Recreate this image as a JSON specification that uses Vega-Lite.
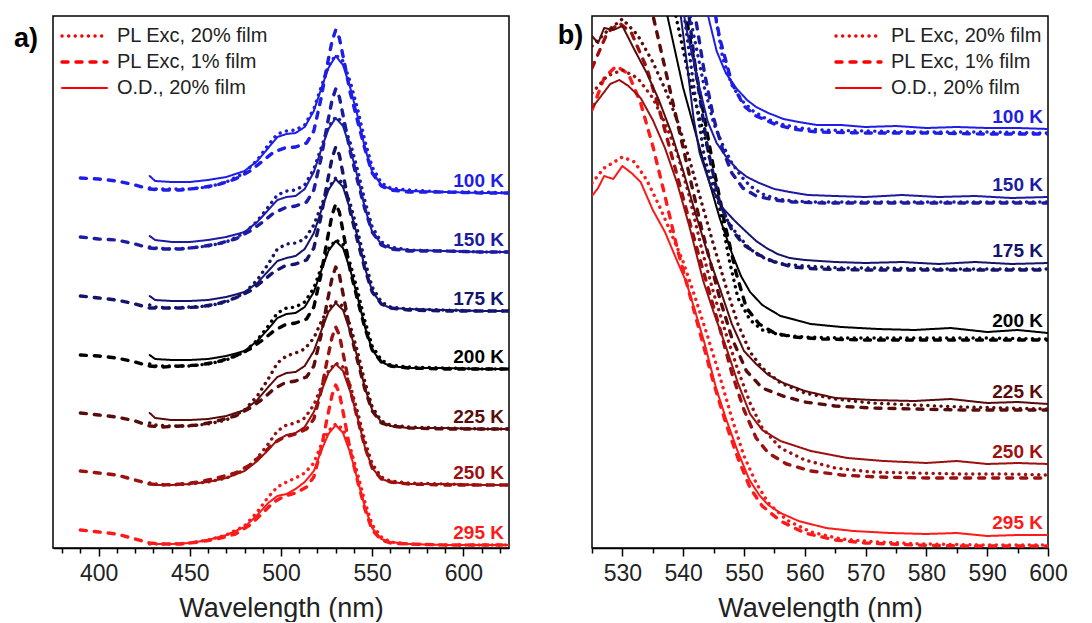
{
"$schema":"https://vega.github.io/schema/vega-lite/v6.json",
"padding":{"left":13,"top":15,"right":5,"bottom":0},
"background":"white",
"spacing":47,
"config":{"view":{"stroke":"#000","strokeWidth":1.5},"font":"Liberation Sans"},
"datasets":{
"a":[
{"t":"100 K","s":"c","x":428,"y":372},{"t":"100 K","s":"c","x":431,"y":367},{"t":"100 K","s":"c","x":440,"y":366},{"t":"100 K","s":"c","x":450,"y":366},{"t":"100 K","s":"c","x":460,"y":368},{"t":"100 K","s":"c","x":470,"y":371},{"t":"100 K","s":"c","x":480,"y":377},{"t":"100 K","s":"c","x":487,"y":387},{"t":"100 K","s":"c","x":493,"y":400},{"t":"100 K","s":"c","x":498,"y":411},{"t":"100 K","s":"c","x":503,"y":414},{"t":"100 K","s":"c","x":508,"y":415},{"t":"100 K","s":"c","x":513,"y":421},{"t":"100 K","s":"c","x":518,"y":437},{"t":"100 K","s":"c","x":522,"y":459},{"t":"100 K","s":"c","x":526,"y":480},{"t":"100 K","s":"c","x":530,"y":492},{"t":"100 K","s":"c","x":534,"y":483},{"t":"100 K","s":"c","x":538,"y":460},{"t":"100 K","s":"c","x":542,"y":432},{"t":"100 K","s":"c","x":546,"y":400},{"t":"100 K","s":"c","x":550,"y":376},{"t":"100 K","s":"c","x":555,"y":363},{"t":"100 K","s":"c","x":560,"y":359},{"t":"100 K","s":"c","x":570,"y":357},{"t":"100 K","s":"c","x":590,"y":356},{"t":"100 K","s":"c","x":610,"y":355},{"t":"100 K","s":"c","x":625,"y":355},
{"t":"100 K","s":"a","x":428,"y":360},{"t":"100 K","s":"a","x":431,"y":359},{"t":"100 K","s":"a","x":440,"y":359},{"t":"100 K","s":"a","x":450,"y":359},{"t":"100 K","s":"a","x":460,"y":361},{"t":"100 K","s":"a","x":470,"y":366},{"t":"100 K","s":"a","x":480,"y":375},{"t":"100 K","s":"a","x":487,"y":388},{"t":"100 K","s":"a","x":493,"y":403},{"t":"100 K","s":"a","x":498,"y":414},{"t":"100 K","s":"a","x":503,"y":417},{"t":"100 K","s":"a","x":508,"y":418},{"t":"100 K","s":"a","x":513,"y":423},{"t":"100 K","s":"a","x":518,"y":439},{"t":"100 K","s":"a","x":522,"y":461},{"t":"100 K","s":"a","x":526,"y":482},{"t":"100 K","s":"a","x":530,"y":493},{"t":"100 K","s":"a","x":534,"y":487},{"t":"100 K","s":"a","x":538,"y":466},{"t":"100 K","s":"a","x":542,"y":439},{"t":"100 K","s":"a","x":546,"y":407},{"t":"100 K","s":"a","x":550,"y":381},{"t":"100 K","s":"a","x":555,"y":365},{"t":"100 K","s":"a","x":560,"y":360},{"t":"100 K","s":"a","x":570,"y":358},{"t":"100 K","s":"a","x":590,"y":356},{"t":"100 K","s":"a","x":610,"y":356},{"t":"100 K","s":"a","x":625,"y":355},
{"t":"150 K","s":"c","x":428,"y":312},{"t":"150 K","s":"c","x":431,"y":308},{"t":"150 K","s":"c","x":440,"y":306},{"t":"150 K","s":"c","x":450,"y":306},{"t":"150 K","s":"c","x":460,"y":308},{"t":"150 K","s":"c","x":470,"y":311},{"t":"150 K","s":"c","x":480,"y":316},{"t":"150 K","s":"c","x":487,"y":326},{"t":"150 K","s":"c","x":493,"y":338},{"t":"150 K","s":"c","x":498,"y":348},{"t":"150 K","s":"c","x":503,"y":351},{"t":"150 K","s":"c","x":508,"y":352},{"t":"150 K","s":"c","x":513,"y":359},{"t":"150 K","s":"c","x":518,"y":376},{"t":"150 K","s":"c","x":522,"y":398},{"t":"150 K","s":"c","x":526,"y":419},{"t":"150 K","s":"c","x":530,"y":430},{"t":"150 K","s":"c","x":534,"y":422},{"t":"150 K","s":"c","x":538,"y":399},{"t":"150 K","s":"c","x":542,"y":371},{"t":"150 K","s":"c","x":546,"y":340},{"t":"150 K","s":"c","x":550,"y":316},{"t":"150 K","s":"c","x":555,"y":304},{"t":"150 K","s":"c","x":560,"y":300},{"t":"150 K","s":"c","x":570,"y":298},{"t":"150 K","s":"c","x":590,"y":297},{"t":"150 K","s":"c","x":610,"y":296},{"t":"150 K","s":"c","x":625,"y":296},
{"t":"150 K","s":"a","x":428,"y":301},{"t":"150 K","s":"a","x":431,"y":300},{"t":"150 K","s":"a","x":440,"y":299},{"t":"150 K","s":"a","x":450,"y":300},{"t":"150 K","s":"a","x":460,"y":302},{"t":"150 K","s":"a","x":470,"y":306},{"t":"150 K","s":"a","x":480,"y":315},{"t":"150 K","s":"a","x":487,"y":327},{"t":"150 K","s":"a","x":493,"y":341},{"t":"150 K","s":"a","x":498,"y":353},{"t":"150 K","s":"a","x":503,"y":357},{"t":"150 K","s":"a","x":508,"y":358},{"t":"150 K","s":"a","x":513,"y":363},{"t":"150 K","s":"a","x":518,"y":379},{"t":"150 K","s":"a","x":522,"y":400},{"t":"150 K","s":"a","x":526,"y":421},{"t":"150 K","s":"a","x":530,"y":431},{"t":"150 K","s":"a","x":534,"y":426},{"t":"150 K","s":"a","x":538,"y":405},{"t":"150 K","s":"a","x":542,"y":378},{"t":"150 K","s":"a","x":546,"y":347},{"t":"150 K","s":"a","x":550,"y":321},{"t":"150 K","s":"a","x":555,"y":306},{"t":"150 K","s":"a","x":560,"y":301},{"t":"150 K","s":"a","x":570,"y":298},{"t":"150 K","s":"a","x":590,"y":297},{"t":"150 K","s":"a","x":610,"y":296},{"t":"150 K","s":"a","x":625,"y":296},
{"t":"175 K","s":"c","x":428,"y":252},{"t":"175 K","s":"c","x":431,"y":248},{"t":"175 K","s":"c","x":440,"y":247},{"t":"175 K","s":"c","x":450,"y":247},{"t":"175 K","s":"c","x":460,"y":248},{"t":"175 K","s":"c","x":470,"y":251},{"t":"175 K","s":"c","x":480,"y":256},{"t":"175 K","s":"c","x":487,"y":265},{"t":"175 K","s":"c","x":493,"y":277},{"t":"175 K","s":"c","x":498,"y":287},{"t":"175 K","s":"c","x":503,"y":290},{"t":"175 K","s":"c","x":508,"y":292},{"t":"175 K","s":"c","x":513,"y":299},{"t":"175 K","s":"c","x":518,"y":315},{"t":"175 K","s":"c","x":522,"y":337},{"t":"175 K","s":"c","x":526,"y":358},{"t":"175 K","s":"c","x":530,"y":369},{"t":"175 K","s":"c","x":534,"y":361},{"t":"175 K","s":"c","x":538,"y":338},{"t":"175 K","s":"c","x":542,"y":311},{"t":"175 K","s":"c","x":546,"y":280},{"t":"175 K","s":"c","x":550,"y":257},{"t":"175 K","s":"c","x":555,"y":244},{"t":"175 K","s":"c","x":560,"y":240},{"t":"175 K","s":"c","x":570,"y":239},{"t":"175 K","s":"c","x":590,"y":238},{"t":"175 K","s":"c","x":610,"y":237},{"t":"175 K","s":"c","x":625,"y":237},
{"t":"175 K","s":"a","x":428,"y":243},{"t":"175 K","s":"a","x":431,"y":241},{"t":"175 K","s":"a","x":440,"y":240},{"t":"175 K","s":"a","x":450,"y":241},{"t":"175 K","s":"a","x":460,"y":242},{"t":"175 K","s":"a","x":470,"y":246},{"t":"175 K","s":"a","x":480,"y":255},{"t":"175 K","s":"a","x":487,"y":268},{"t":"175 K","s":"a","x":493,"y":284},{"t":"175 K","s":"a","x":498,"y":299},{"t":"175 K","s":"a","x":503,"y":304},{"t":"175 K","s":"a","x":508,"y":305},{"t":"175 K","s":"a","x":513,"y":309},{"t":"175 K","s":"a","x":518,"y":323},{"t":"175 K","s":"a","x":522,"y":342},{"t":"175 K","s":"a","x":526,"y":360},{"t":"175 K","s":"a","x":530,"y":370},{"t":"175 K","s":"a","x":534,"y":365},{"t":"175 K","s":"a","x":538,"y":344},{"t":"175 K","s":"a","x":542,"y":317},{"t":"175 K","s":"a","x":546,"y":287},{"t":"175 K","s":"a","x":550,"y":261},{"t":"175 K","s":"a","x":555,"y":246},{"t":"175 K","s":"a","x":560,"y":241},{"t":"175 K","s":"a","x":570,"y":239},{"t":"175 K","s":"a","x":590,"y":238},{"t":"175 K","s":"a","x":610,"y":237},{"t":"175 K","s":"a","x":625,"y":237},
{"t":"200 K","s":"c","x":428,"y":193},{"t":"200 K","s":"c","x":431,"y":189},{"t":"200 K","s":"c","x":440,"y":188},{"t":"200 K","s":"c","x":450,"y":188},{"t":"200 K","s":"c","x":460,"y":189},{"t":"200 K","s":"c","x":470,"y":192},{"t":"200 K","s":"c","x":480,"y":197},{"t":"200 K","s":"c","x":487,"y":207},{"t":"200 K","s":"c","x":493,"y":219},{"t":"200 K","s":"c","x":498,"y":230},{"t":"200 K","s":"c","x":503,"y":234},{"t":"200 K","s":"c","x":508,"y":235},{"t":"200 K","s":"c","x":513,"y":241},{"t":"200 K","s":"c","x":518,"y":256},{"t":"200 K","s":"c","x":522,"y":277},{"t":"200 K","s":"c","x":526,"y":297},{"t":"200 K","s":"c","x":530,"y":307},{"t":"200 K","s":"c","x":534,"y":300},{"t":"200 K","s":"c","x":538,"y":278},{"t":"200 K","s":"c","x":542,"y":251},{"t":"200 K","s":"c","x":546,"y":221},{"t":"200 K","s":"c","x":550,"y":198},{"t":"200 K","s":"c","x":555,"y":186},{"t":"200 K","s":"c","x":560,"y":182},{"t":"200 K","s":"c","x":570,"y":180},{"t":"200 K","s":"c","x":590,"y":180},{"t":"200 K","s":"c","x":610,"y":179},{"t":"200 K","s":"c","x":625,"y":179},
{"t":"200 K","s":"a","x":428,"y":184},{"t":"200 K","s":"a","x":431,"y":182},{"t":"200 K","s":"a","x":440,"y":182},{"t":"200 K","s":"a","x":450,"y":182},{"t":"200 K","s":"a","x":460,"y":184},{"t":"200 K","s":"a","x":470,"y":188},{"t":"200 K","s":"a","x":480,"y":196},{"t":"200 K","s":"a","x":487,"y":208},{"t":"200 K","s":"a","x":493,"y":222},{"t":"200 K","s":"a","x":498,"y":235},{"t":"200 K","s":"a","x":503,"y":240},{"t":"200 K","s":"a","x":508,"y":241},{"t":"200 K","s":"a","x":513,"y":246},{"t":"200 K","s":"a","x":518,"y":260},{"t":"200 K","s":"a","x":522,"y":280},{"t":"200 K","s":"a","x":526,"y":299},{"t":"200 K","s":"a","x":530,"y":308},{"t":"200 K","s":"a","x":534,"y":304},{"t":"200 K","s":"a","x":538,"y":284},{"t":"200 K","s":"a","x":542,"y":257},{"t":"200 K","s":"a","x":546,"y":227},{"t":"200 K","s":"a","x":550,"y":202},{"t":"200 K","s":"a","x":555,"y":188},{"t":"200 K","s":"a","x":560,"y":183},{"t":"200 K","s":"a","x":570,"y":181},{"t":"200 K","s":"a","x":590,"y":180},{"t":"200 K","s":"a","x":610,"y":179},{"t":"200 K","s":"a","x":625,"y":179},
{"t":"225 K","s":"c","x":428,"y":135},{"t":"225 K","s":"c","x":431,"y":130},{"t":"225 K","s":"c","x":440,"y":128},{"t":"225 K","s":"c","x":450,"y":128},{"t":"225 K","s":"c","x":460,"y":129},{"t":"225 K","s":"c","x":470,"y":132},{"t":"225 K","s":"c","x":480,"y":138},{"t":"225 K","s":"c","x":487,"y":148},{"t":"225 K","s":"c","x":493,"y":161},{"t":"225 K","s":"c","x":498,"y":171},{"t":"225 K","s":"c","x":503,"y":175},{"t":"225 K","s":"c","x":508,"y":176},{"t":"225 K","s":"c","x":513,"y":182},{"t":"225 K","s":"c","x":518,"y":197},{"t":"225 K","s":"c","x":522,"y":217},{"t":"225 K","s":"c","x":526,"y":236},{"t":"225 K","s":"c","x":530,"y":245},{"t":"225 K","s":"c","x":534,"y":238},{"t":"225 K","s":"c","x":538,"y":216},{"t":"225 K","s":"c","x":542,"y":190},{"t":"225 K","s":"c","x":546,"y":160},{"t":"225 K","s":"c","x":550,"y":138},{"t":"225 K","s":"c","x":555,"y":126},{"t":"225 K","s":"c","x":560,"y":122},{"t":"225 K","s":"c","x":570,"y":120},{"t":"225 K","s":"c","x":590,"y":120},{"t":"225 K","s":"c","x":610,"y":119},{"t":"225 K","s":"c","x":625,"y":119},
{"t":"225 K","s":"a","x":428,"y":125},{"t":"225 K","s":"a","x":431,"y":123},{"t":"225 K","s":"a","x":440,"y":122},{"t":"225 K","s":"a","x":450,"y":122},{"t":"225 K","s":"a","x":460,"y":124},{"t":"225 K","s":"a","x":470,"y":128},{"t":"225 K","s":"a","x":480,"y":138},{"t":"225 K","s":"a","x":487,"y":152},{"t":"225 K","s":"a","x":493,"y":169},{"t":"225 K","s":"a","x":498,"y":185},{"t":"225 K","s":"a","x":503,"y":192},{"t":"225 K","s":"a","x":508,"y":195},{"t":"225 K","s":"a","x":513,"y":199},{"t":"225 K","s":"a","x":518,"y":210},{"t":"225 K","s":"a","x":522,"y":226},{"t":"225 K","s":"a","x":526,"y":240},{"t":"225 K","s":"a","x":530,"y":246},{"t":"225 K","s":"a","x":534,"y":242},{"t":"225 K","s":"a","x":538,"y":222},{"t":"225 K","s":"a","x":542,"y":196},{"t":"225 K","s":"a","x":546,"y":166},{"t":"225 K","s":"a","x":550,"y":141},{"t":"225 K","s":"a","x":555,"y":127},{"t":"225 K","s":"a","x":560,"y":123},{"t":"225 K","s":"a","x":570,"y":121},{"t":"225 K","s":"a","x":590,"y":120},{"t":"225 K","s":"a","x":610,"y":119},{"t":"225 K","s":"a","x":625,"y":119},
{"t":"250 K","s":"c","x":428,"y":65},{"t":"250 K","s":"c","x":431,"y":63},{"t":"250 K","s":"c","x":440,"y":63},{"t":"250 K","s":"c","x":450,"y":64},{"t":"250 K","s":"c","x":460,"y":66},{"t":"250 K","s":"c","x":470,"y":70},{"t":"250 K","s":"c","x":480,"y":77},{"t":"250 K","s":"c","x":487,"y":87},{"t":"250 K","s":"c","x":493,"y":98},{"t":"250 K","s":"c","x":498,"y":108},{"t":"250 K","s":"c","x":503,"y":113},{"t":"250 K","s":"c","x":508,"y":115},{"t":"250 K","s":"c","x":513,"y":121},{"t":"250 K","s":"c","x":518,"y":136},{"t":"250 K","s":"c","x":522,"y":156},{"t":"250 K","s":"c","x":526,"y":175},{"t":"250 K","s":"c","x":530,"y":184},{"t":"250 K","s":"c","x":534,"y":177},{"t":"250 K","s":"c","x":538,"y":156},{"t":"250 K","s":"c","x":542,"y":130},{"t":"250 K","s":"c","x":546,"y":101},{"t":"250 K","s":"c","x":550,"y":80},{"t":"250 K","s":"c","x":555,"y":69},{"t":"250 K","s":"c","x":560,"y":66},{"t":"250 K","s":"c","x":570,"y":64},{"t":"250 K","s":"c","x":590,"y":64},{"t":"250 K","s":"c","x":610,"y":63},{"t":"250 K","s":"c","x":625,"y":63},
{"t":"250 K","s":"a","x":428,"y":65},{"t":"250 K","s":"a","x":431,"y":64},{"t":"250 K","s":"a","x":440,"y":63},{"t":"250 K","s":"a","x":450,"y":64},{"t":"250 K","s":"a","x":460,"y":66},{"t":"250 K","s":"a","x":470,"y":70},{"t":"250 K","s":"a","x":480,"y":78},{"t":"250 K","s":"a","x":487,"y":90},{"t":"250 K","s":"a","x":493,"y":104},{"t":"250 K","s":"a","x":498,"y":117},{"t":"250 K","s":"a","x":503,"y":123},{"t":"250 K","s":"a","x":508,"y":125},{"t":"250 K","s":"a","x":513,"y":130},{"t":"250 K","s":"a","x":518,"y":143},{"t":"250 K","s":"a","x":522,"y":161},{"t":"250 K","s":"a","x":526,"y":177},{"t":"250 K","s":"a","x":530,"y":185},{"t":"250 K","s":"a","x":534,"y":181},{"t":"250 K","s":"a","x":538,"y":162},{"t":"250 K","s":"a","x":542,"y":136},{"t":"250 K","s":"a","x":546,"y":107},{"t":"250 K","s":"a","x":550,"y":84},{"t":"250 K","s":"a","x":555,"y":71},{"t":"250 K","s":"a","x":560,"y":67},{"t":"250 K","s":"a","x":570,"y":65},{"t":"250 K","s":"a","x":590,"y":64},{"t":"250 K","s":"a","x":610,"y":63},{"t":"250 K","s":"a","x":625,"y":63},
{"t":"295 K","s":"c","x":428,"y":4},{"t":"295 K","s":"c","x":431,"y":4},{"t":"295 K","s":"c","x":440,"y":4},{"t":"295 K","s":"c","x":450,"y":5},{"t":"295 K","s":"c","x":460,"y":8},{"t":"295 K","s":"c","x":470,"y":13},{"t":"295 K","s":"c","x":480,"y":21},{"t":"295 K","s":"c","x":487,"y":33},{"t":"295 K","s":"c","x":493,"y":45},{"t":"295 K","s":"c","x":498,"y":52},{"t":"295 K","s":"c","x":503,"y":54},{"t":"295 K","s":"c","x":508,"y":59},{"t":"295 K","s":"c","x":513,"y":66},{"t":"295 K","s":"c","x":518,"y":77},{"t":"295 K","s":"c","x":522,"y":97},{"t":"295 K","s":"c","x":526,"y":114},{"t":"295 K","s":"c","x":530,"y":123},{"t":"295 K","s":"c","x":534,"y":115},{"t":"295 K","s":"c","x":538,"y":95},{"t":"295 K","s":"c","x":542,"y":68},{"t":"295 K","s":"c","x":546,"y":41},{"t":"295 K","s":"c","x":550,"y":20},{"t":"295 K","s":"c","x":555,"y":9},{"t":"295 K","s":"c","x":560,"y":6},{"t":"295 K","s":"c","x":570,"y":4},{"t":"295 K","s":"c","x":590,"y":3},{"t":"295 K","s":"c","x":610,"y":3},{"t":"295 K","s":"c","x":625,"y":3},
{"t":"295 K","s":"a","x":428,"y":4},{"t":"295 K","s":"a","x":431,"y":4},{"t":"295 K","s":"a","x":440,"y":4},{"t":"295 K","s":"a","x":450,"y":5},{"t":"295 K","s":"a","x":460,"y":8},{"t":"295 K","s":"a","x":470,"y":13},{"t":"295 K","s":"a","x":480,"y":22},{"t":"295 K","s":"a","x":487,"y":36},{"t":"295 K","s":"a","x":493,"y":51},{"t":"295 K","s":"a","x":498,"y":61},{"t":"295 K","s":"a","x":503,"y":66},{"t":"295 K","s":"a","x":508,"y":70},{"t":"295 K","s":"a","x":513,"y":75},{"t":"295 K","s":"a","x":518,"y":85},{"t":"295 K","s":"a","x":522,"y":103},{"t":"295 K","s":"a","x":526,"y":117},{"t":"295 K","s":"a","x":530,"y":124},{"t":"295 K","s":"a","x":534,"y":119},{"t":"295 K","s":"a","x":538,"y":100},{"t":"295 K","s":"a","x":542,"y":74},{"t":"295 K","s":"a","x":546,"y":46},{"t":"295 K","s":"a","x":550,"y":23},{"t":"295 K","s":"a","x":555,"y":11},{"t":"295 K","s":"a","x":560,"y":6},{"t":"295 K","s":"a","x":570,"y":4},{"t":"295 K","s":"a","x":590,"y":3},{"t":"295 K","s":"a","x":610,"y":3},{"t":"295 K","s":"a","x":625,"y":3},
{"t":"100 K","s":"b","x":390,"y":370},{"t":"100 K","s":"b","x":400,"y":369},{"t":"100 K","s":"b","x":410,"y":367},{"t":"100 K","s":"b","x":420,"y":363},{"t":"100 K","s":"b","x":428,"y":359},{"t":"100 K","s":"b","x":435,"y":358},{"t":"100 K","s":"b","x":445,"y":358},{"t":"100 K","s":"b","x":455,"y":360},{"t":"100 K","s":"b","x":465,"y":363},{"t":"100 K","s":"b","x":475,"y":369},{"t":"100 K","s":"b","x":483,"y":377},{"t":"100 K","s":"b","x":490,"y":387},{"t":"100 K","s":"b","x":496,"y":396},{"t":"100 K","s":"b","x":502,"y":400},{"t":"100 K","s":"b","x":508,"y":401},{"t":"100 K","s":"b","x":514,"y":405},{"t":"100 K","s":"b","x":518,"y":417},{"t":"100 K","s":"b","x":522,"y":450},{"t":"100 K","s":"b","x":525,"y":480},{"t":"100 K","s":"b","x":528,"y":507},{"t":"100 K","s":"b","x":530,"y":518},{"t":"100 K","s":"b","x":532,"y":510},{"t":"100 K","s":"b","x":535,"y":483},{"t":"100 K","s":"b","x":538,"y":455},{"t":"100 K","s":"b","x":542,"y":427},{"t":"100 K","s":"b","x":546,"y":399},{"t":"100 K","s":"b","x":550,"y":375},{"t":"100 K","s":"b","x":555,"y":362},{"t":"100 K","s":"b","x":560,"y":358},{"t":"100 K","s":"b","x":570,"y":356},{"t":"100 K","s":"b","x":590,"y":356},{"t":"100 K","s":"b","x":610,"y":355},{"t":"100 K","s":"b","x":625,"y":355},
{"t":"150 K","s":"b","x":390,"y":311},{"t":"150 K","s":"b","x":400,"y":309},{"t":"150 K","s":"b","x":410,"y":308},{"t":"150 K","s":"b","x":420,"y":304},{"t":"150 K","s":"b","x":428,"y":300},{"t":"150 K","s":"b","x":435,"y":299},{"t":"150 K","s":"b","x":445,"y":299},{"t":"150 K","s":"b","x":455,"y":301},{"t":"150 K","s":"b","x":465,"y":304},{"t":"150 K","s":"b","x":475,"y":309},{"t":"150 K","s":"b","x":483,"y":317},{"t":"150 K","s":"b","x":490,"y":326},{"t":"150 K","s":"b","x":496,"y":335},{"t":"150 K","s":"b","x":502,"y":340},{"t":"150 K","s":"b","x":508,"y":342},{"t":"150 K","s":"b","x":514,"y":346},{"t":"150 K","s":"b","x":518,"y":358},{"t":"150 K","s":"b","x":522,"y":390},{"t":"150 K","s":"b","x":525,"y":420},{"t":"150 K","s":"b","x":528,"y":448},{"t":"150 K","s":"b","x":530,"y":459},{"t":"150 K","s":"b","x":532,"y":451},{"t":"150 K","s":"b","x":535,"y":424},{"t":"150 K","s":"b","x":538,"y":396},{"t":"150 K","s":"b","x":542,"y":367},{"t":"150 K","s":"b","x":546,"y":339},{"t":"150 K","s":"b","x":550,"y":316},{"t":"150 K","s":"b","x":555,"y":303},{"t":"150 K","s":"b","x":560,"y":299},{"t":"150 K","s":"b","x":570,"y":297},{"t":"150 K","s":"b","x":590,"y":297},{"t":"150 K","s":"b","x":610,"y":296},{"t":"150 K","s":"b","x":625,"y":296},
{"t":"175 K","s":"b","x":390,"y":252},{"t":"175 K","s":"b","x":400,"y":250},{"t":"175 K","s":"b","x":410,"y":248},{"t":"175 K","s":"b","x":420,"y":244},{"t":"175 K","s":"b","x":428,"y":240},{"t":"175 K","s":"b","x":435,"y":240},{"t":"175 K","s":"b","x":445,"y":240},{"t":"175 K","s":"b","x":455,"y":241},{"t":"175 K","s":"b","x":465,"y":244},{"t":"175 K","s":"b","x":475,"y":250},{"t":"175 K","s":"b","x":483,"y":257},{"t":"175 K","s":"b","x":490,"y":267},{"t":"175 K","s":"b","x":496,"y":276},{"t":"175 K","s":"b","x":502,"y":282},{"t":"175 K","s":"b","x":508,"y":284},{"t":"175 K","s":"b","x":514,"y":288},{"t":"175 K","s":"b","x":518,"y":300},{"t":"175 K","s":"b","x":522,"y":332},{"t":"175 K","s":"b","x":525,"y":362},{"t":"175 K","s":"b","x":528,"y":390},{"t":"175 K","s":"b","x":530,"y":401},{"t":"175 K","s":"b","x":532,"y":393},{"t":"175 K","s":"b","x":535,"y":365},{"t":"175 K","s":"b","x":538,"y":336},{"t":"175 K","s":"b","x":542,"y":307},{"t":"175 K","s":"b","x":546,"y":279},{"t":"175 K","s":"b","x":550,"y":256},{"t":"175 K","s":"b","x":555,"y":244},{"t":"175 K","s":"b","x":560,"y":240},{"t":"175 K","s":"b","x":570,"y":238},{"t":"175 K","s":"b","x":590,"y":237},{"t":"175 K","s":"b","x":610,"y":237},{"t":"175 K","s":"b","x":625,"y":237},
{"t":"200 K","s":"b","x":390,"y":193},{"t":"200 K","s":"b","x":400,"y":192},{"t":"200 K","s":"b","x":410,"y":190},{"t":"200 K","s":"b","x":420,"y":186},{"t":"200 K","s":"b","x":428,"y":182},{"t":"200 K","s":"b","x":435,"y":181},{"t":"200 K","s":"b","x":445,"y":182},{"t":"200 K","s":"b","x":455,"y":183},{"t":"200 K","s":"b","x":465,"y":186},{"t":"200 K","s":"b","x":475,"y":192},{"t":"200 K","s":"b","x":483,"y":199},{"t":"200 K","s":"b","x":490,"y":208},{"t":"200 K","s":"b","x":496,"y":217},{"t":"200 K","s":"b","x":502,"y":223},{"t":"200 K","s":"b","x":508,"y":225},{"t":"200 K","s":"b","x":514,"y":229},{"t":"200 K","s":"b","x":518,"y":241},{"t":"200 K","s":"b","x":522,"y":274},{"t":"200 K","s":"b","x":525,"y":305},{"t":"200 K","s":"b","x":528,"y":333},{"t":"200 K","s":"b","x":530,"y":344},{"t":"200 K","s":"b","x":532,"y":336},{"t":"200 K","s":"b","x":535,"y":307},{"t":"200 K","s":"b","x":538,"y":277},{"t":"200 K","s":"b","x":542,"y":248},{"t":"200 K","s":"b","x":546,"y":220},{"t":"200 K","s":"b","x":550,"y":198},{"t":"200 K","s":"b","x":555,"y":186},{"t":"200 K","s":"b","x":560,"y":182},{"t":"200 K","s":"b","x":570,"y":180},{"t":"200 K","s":"b","x":590,"y":179},{"t":"200 K","s":"b","x":610,"y":179},{"t":"200 K","s":"b","x":625,"y":179},
{"t":"225 K","s":"b","x":390,"y":135},{"t":"225 K","s":"b","x":400,"y":133},{"t":"225 K","s":"b","x":410,"y":131},{"t":"225 K","s":"b","x":420,"y":127},{"t":"225 K","s":"b","x":428,"y":122},{"t":"225 K","s":"b","x":435,"y":121},{"t":"225 K","s":"b","x":445,"y":122},{"t":"225 K","s":"b","x":455,"y":123},{"t":"225 K","s":"b","x":465,"y":127},{"t":"225 K","s":"b","x":475,"y":132},{"t":"225 K","s":"b","x":483,"y":140},{"t":"225 K","s":"b","x":490,"y":149},{"t":"225 K","s":"b","x":496,"y":159},{"t":"225 K","s":"b","x":502,"y":165},{"t":"225 K","s":"b","x":508,"y":167},{"t":"225 K","s":"b","x":514,"y":171},{"t":"225 K","s":"b","x":518,"y":182},{"t":"225 K","s":"b","x":522,"y":213},{"t":"225 K","s":"b","x":525,"y":243},{"t":"225 K","s":"b","x":528,"y":270},{"t":"225 K","s":"b","x":530,"y":281},{"t":"225 K","s":"b","x":532,"y":273},{"t":"225 K","s":"b","x":535,"y":245},{"t":"225 K","s":"b","x":538,"y":216},{"t":"225 K","s":"b","x":542,"y":187},{"t":"225 K","s":"b","x":546,"y":159},{"t":"225 K","s":"b","x":550,"y":137},{"t":"225 K","s":"b","x":555,"y":125},{"t":"225 K","s":"b","x":560,"y":122},{"t":"225 K","s":"b","x":570,"y":120},{"t":"225 K","s":"b","x":590,"y":119},{"t":"225 K","s":"b","x":610,"y":119},{"t":"225 K","s":"b","x":625,"y":119},
{"t":"250 K","s":"b","x":390,"y":77},{"t":"250 K","s":"b","x":400,"y":75},{"t":"250 K","s":"b","x":410,"y":73},{"t":"250 K","s":"b","x":420,"y":68},{"t":"250 K","s":"b","x":428,"y":64},{"t":"250 K","s":"b","x":435,"y":63},{"t":"250 K","s":"b","x":445,"y":64},{"t":"250 K","s":"b","x":455,"y":66},{"t":"250 K","s":"b","x":465,"y":70},{"t":"250 K","s":"b","x":475,"y":75},{"t":"250 K","s":"b","x":483,"y":83},{"t":"250 K","s":"b","x":490,"y":94},{"t":"250 K","s":"b","x":496,"y":105},{"t":"250 K","s":"b","x":502,"y":111},{"t":"250 K","s":"b","x":508,"y":114},{"t":"250 K","s":"b","x":514,"y":119},{"t":"250 K","s":"b","x":518,"y":129},{"t":"250 K","s":"b","x":522,"y":157},{"t":"250 K","s":"b","x":525,"y":185},{"t":"250 K","s":"b","x":528,"y":211},{"t":"250 K","s":"b","x":530,"y":221},{"t":"250 K","s":"b","x":532,"y":213},{"t":"250 K","s":"b","x":535,"y":186},{"t":"250 K","s":"b","x":538,"y":158},{"t":"250 K","s":"b","x":542,"y":129},{"t":"250 K","s":"b","x":546,"y":101},{"t":"250 K","s":"b","x":550,"y":80},{"t":"250 K","s":"b","x":555,"y":69},{"t":"250 K","s":"b","x":560,"y":66},{"t":"250 K","s":"b","x":570,"y":64},{"t":"250 K","s":"b","x":590,"y":63},{"t":"250 K","s":"b","x":610,"y":63},{"t":"250 K","s":"b","x":625,"y":63},
{"t":"295 K","s":"b","x":390,"y":18},{"t":"295 K","s":"b","x":400,"y":16},{"t":"295 K","s":"b","x":410,"y":14},{"t":"295 K","s":"b","x":420,"y":9},{"t":"295 K","s":"b","x":428,"y":5},{"t":"295 K","s":"b","x":435,"y":4},{"t":"295 K","s":"b","x":445,"y":4},{"t":"295 K","s":"b","x":455,"y":6},{"t":"295 K","s":"b","x":465,"y":9},{"t":"295 K","s":"b","x":475,"y":14},{"t":"295 K","s":"b","x":483,"y":23},{"t":"295 K","s":"b","x":490,"y":35},{"t":"295 K","s":"b","x":496,"y":46},{"t":"295 K","s":"b","x":502,"y":52},{"t":"295 K","s":"b","x":508,"y":55},{"t":"295 K","s":"b","x":514,"y":61},{"t":"295 K","s":"b","x":518,"y":71},{"t":"295 K","s":"b","x":522,"y":99},{"t":"295 K","s":"b","x":525,"y":127},{"t":"295 K","s":"b","x":528,"y":153},{"t":"295 K","s":"b","x":530,"y":163},{"t":"295 K","s":"b","x":532,"y":155},{"t":"295 K","s":"b","x":535,"y":127},{"t":"295 K","s":"b","x":538,"y":97},{"t":"295 K","s":"b","x":542,"y":67},{"t":"295 K","s":"b","x":546,"y":39},{"t":"295 K","s":"b","x":550,"y":18},{"t":"295 K","s":"b","x":555,"y":8},{"t":"295 K","s":"b","x":560,"y":5},{"t":"295 K","s":"b","x":570,"y":4},{"t":"295 K","s":"b","x":590,"y":3},{"t":"295 K","s":"b","x":610,"y":3},{"t":"295 K","s":"b","x":625,"y":3}
],
"b":[
{"t":"295 K","s":"c","x":525,"y":352},{"t":"295 K","s":"c","x":526,"y":360},{"t":"295 K","s":"c","x":527,"y":372},{"t":"295 K","s":"c","x":528.5,"y":369},{"t":"295 K","s":"c","x":530,"y":382},{"t":"295 K","s":"c","x":531.5,"y":375},{"t":"295 K","s":"c","x":533,"y":366},{"t":"295 K","s":"c","x":535,"y":338},{"t":"295 K","s":"c","x":537,"y":316},{"t":"295 K","s":"c","x":539,"y":287},{"t":"295 K","s":"c","x":540.5,"y":266},{"t":"295 K","s":"c","x":542,"y":236},{"t":"295 K","s":"c","x":543.5,"y":205},{"t":"295 K","s":"c","x":545.4,"y":160},{"t":"295 K","s":"c","x":547,"y":130},{"t":"295 K","s":"c","x":549,"y":96},{"t":"295 K","s":"c","x":550.9,"y":68},{"t":"295 K","s":"c","x":552.5,"y":53},{"t":"295 K","s":"c","x":554,"y":43},{"t":"295 K","s":"c","x":556,"y":35},{"t":"295 K","s":"c","x":559,"y":27},{"t":"295 K","s":"c","x":563.5,"y":20},{"t":"295 K","s":"c","x":568,"y":17},{"t":"295 K","s":"c","x":574,"y":15},{"t":"295 K","s":"c","x":580,"y":14},{"t":"295 K","s":"c","x":585,"y":15},{"t":"295 K","s":"c","x":590,"y":12},{"t":"295 K","s":"c","x":595,"y":13},{"t":"295 K","s":"c","x":600,"y":13},
{"t":"295 K","s":"a","x":525,"y":365},{"t":"295 K","s":"a","x":527,"y":380},{"t":"295 K","s":"a","x":530,"y":391},{"t":"295 K","s":"a","x":532,"y":386},{"t":"295 K","s":"a","x":534,"y":368},{"t":"295 K","s":"a","x":536,"y":343},{"t":"295 K","s":"a","x":538,"y":315},{"t":"295 K","s":"a","x":540,"y":286},{"t":"295 K","s":"a","x":542,"y":250},{"t":"295 K","s":"a","x":544,"y":212},{"t":"295 K","s":"a","x":546,"y":172},{"t":"295 K","s":"a","x":548,"y":130},{"t":"295 K","s":"a","x":550,"y":92},{"t":"295 K","s":"a","x":552,"y":65},{"t":"295 K","s":"a","x":554,"y":45},{"t":"295 K","s":"a","x":557,"y":28},{"t":"295 K","s":"a","x":561,"y":16},{"t":"295 K","s":"a","x":566,"y":9},{"t":"295 K","s":"a","x":572,"y":6},{"t":"295 K","s":"a","x":580,"y":4},{"t":"295 K","s":"a","x":590,"y":3},{"t":"295 K","s":"a","x":600,"y":3},
{"t":"295 K","s":"b","x":525,"y":438},{"t":"295 K","s":"b","x":527,"y":470},{"t":"295 K","s":"b","x":529,"y":482},{"t":"295 K","s":"b","x":531,"y":474},{"t":"295 K","s":"b","x":533,"y":445},{"t":"295 K","s":"b","x":535,"y":402},{"t":"295 K","s":"b","x":537,"y":352},{"t":"295 K","s":"b","x":539,"y":300},{"t":"295 K","s":"b","x":541,"y":255},{"t":"295 K","s":"b","x":543,"y":210},{"t":"295 K","s":"b","x":545,"y":165},{"t":"295 K","s":"b","x":547,"y":125},{"t":"295 K","s":"b","x":549,"y":90},{"t":"295 K","s":"b","x":551,"y":60},{"t":"295 K","s":"b","x":553,"y":42},{"t":"295 K","s":"b","x":556,"y":27},{"t":"295 K","s":"b","x":560,"y":15},{"t":"295 K","s":"b","x":565,"y":8},{"t":"295 K","s":"b","x":570,"y":5},{"t":"295 K","s":"b","x":578,"y":3},{"t":"295 K","s":"b","x":586,"y":2},{"t":"295 K","s":"b","x":593,"y":2},{"t":"295 K","s":"b","x":600,"y":2},
{"t":"250 K","s":"c","x":525,"y":440},{"t":"250 K","s":"c","x":526.5,"y":452},{"t":"250 K","s":"c","x":528,"y":464},{"t":"250 K","s":"c","x":529.5,"y":468},{"t":"250 K","s":"c","x":531,"y":462},{"t":"250 K","s":"c","x":533,"y":450},{"t":"250 K","s":"c","x":535,"y":428},{"t":"250 K","s":"c","x":537,"y":400},{"t":"250 K","s":"c","x":539,"y":365},{"t":"250 K","s":"c","x":541,"y":322},{"t":"250 K","s":"c","x":543.3,"y":267},{"t":"250 K","s":"c","x":545,"y":236},{"t":"250 K","s":"c","x":547.1,"y":200},{"t":"250 K","s":"c","x":549,"y":165},{"t":"250 K","s":"c","x":551,"y":134},{"t":"250 K","s":"c","x":553,"y":118},{"t":"250 K","s":"c","x":556,"y":107},{"t":"250 K","s":"c","x":561,"y":97},{"t":"250 K","s":"c","x":567,"y":90},{"t":"250 K","s":"c","x":573,"y":87},{"t":"250 K","s":"c","x":580,"y":85},{"t":"250 K","s":"c","x":585,"y":87},{"t":"250 K","s":"c","x":590,"y":84},{"t":"250 K","s":"c","x":595,"y":85},{"t":"250 K","s":"c","x":600,"y":84},
{"t":"250 K","s":"a","x":525,"y":455},{"t":"250 K","s":"a","x":527.5,"y":472},{"t":"250 K","s":"a","x":530,"y":478},{"t":"250 K","s":"a","x":532.5,"y":470},{"t":"250 K","s":"a","x":535,"y":450},{"t":"250 K","s":"a","x":537,"y":425},{"t":"250 K","s":"a","x":539,"y":395},{"t":"250 K","s":"a","x":541,"y":352},{"t":"250 K","s":"a","x":543,"y":300},{"t":"250 K","s":"a","x":545,"y":255},{"t":"250 K","s":"a","x":547,"y":215},{"t":"250 K","s":"a","x":549,"y":178},{"t":"250 K","s":"a","x":551,"y":145},{"t":"250 K","s":"a","x":553,"y":120},{"t":"250 K","s":"a","x":556,"y":100},{"t":"250 K","s":"a","x":560,"y":88},{"t":"250 K","s":"a","x":565,"y":80},{"t":"250 K","s":"a","x":571,"y":76},{"t":"250 K","s":"a","x":578,"y":75},{"t":"250 K","s":"a","x":586,"y":74},{"t":"250 K","s":"a","x":593,"y":74},{"t":"250 K","s":"a","x":600,"y":73},
{"t":"250 K","s":"b","x":525,"y":480},{"t":"250 K","s":"b","x":527.5,"y":515},{"t":"250 K","s":"b","x":529.5,"y":525},{"t":"250 K","s":"b","x":531.5,"y":515},{"t":"250 K","s":"b","x":534,"y":480},{"t":"250 K","s":"b","x":536,"y":440},{"t":"250 K","s":"b","x":538,"y":395},{"t":"250 K","s":"b","x":540,"y":350},{"t":"250 K","s":"b","x":542,"y":305},{"t":"250 K","s":"b","x":544,"y":262},{"t":"250 K","s":"b","x":546,"y":220},{"t":"250 K","s":"b","x":548,"y":175},{"t":"250 K","s":"b","x":550,"y":138},{"t":"250 K","s":"b","x":552,"y":110},{"t":"250 K","s":"b","x":554,"y":95},{"t":"250 K","s":"b","x":557,"y":84},{"t":"250 K","s":"b","x":561,"y":77},{"t":"250 K","s":"b","x":566,"y":73},{"t":"250 K","s":"b","x":572,"y":71},{"t":"250 K","s":"b","x":580,"y":70},{"t":"250 K","s":"b","x":590,"y":70},{"t":"250 K","s":"b","x":600,"y":70},
{"t":"225 K","s":"c","x":525,"y":512},{"t":"225 K","s":"c","x":526,"y":505},{"t":"225 K","s":"c","x":527,"y":520},{"t":"225 K","s":"c","x":528.5,"y":518},{"t":"225 K","s":"c","x":530,"y":522},{"t":"225 K","s":"c","x":532,"y":498},{"t":"225 K","s":"c","x":534,"y":475},{"t":"225 K","s":"c","x":536,"y":448},{"t":"225 K","s":"c","x":538,"y":416},{"t":"225 K","s":"c","x":540,"y":377},{"t":"225 K","s":"c","x":542,"y":335},{"t":"225 K","s":"c","x":544,"y":295},{"t":"225 K","s":"c","x":546,"y":260},{"t":"225 K","s":"c","x":548,"y":224},{"t":"225 K","s":"c","x":550,"y":197},{"t":"225 K","s":"c","x":552,"y":184},{"t":"225 K","s":"c","x":554,"y":173},{"t":"225 K","s":"c","x":556.5,"y":165},{"t":"225 K","s":"c","x":560,"y":157},{"t":"225 K","s":"c","x":565,"y":150},{"t":"225 K","s":"c","x":571,"y":148},{"t":"225 K","s":"c","x":578,"y":147},{"t":"225 K","s":"c","x":584,"y":149},{"t":"225 K","s":"c","x":590,"y":145},{"t":"225 K","s":"c","x":595,"y":146},{"t":"225 K","s":"c","x":600,"y":144},
{"t":"225 K","s":"a","x":525,"y":502},{"t":"225 K","s":"a","x":527.5,"y":517},{"t":"225 K","s":"a","x":530,"y":529},{"t":"225 K","s":"a","x":532.5,"y":513},{"t":"225 K","s":"a","x":535,"y":486},{"t":"225 K","s":"a","x":537,"y":459},{"t":"225 K","s":"a","x":539,"y":428},{"t":"225 K","s":"a","x":541,"y":389},{"t":"225 K","s":"a","x":543,"y":346},{"t":"225 K","s":"a","x":545,"y":303},{"t":"225 K","s":"a","x":547,"y":262},{"t":"225 K","s":"a","x":549,"y":224},{"t":"225 K","s":"a","x":551,"y":196},{"t":"225 K","s":"a","x":553,"y":180},{"t":"225 K","s":"a","x":556,"y":165},{"t":"225 K","s":"a","x":560,"y":155},{"t":"225 K","s":"a","x":565,"y":149},{"t":"225 K","s":"a","x":571,"y":145},{"t":"225 K","s":"a","x":578,"y":143},{"t":"225 K","s":"a","x":586,"y":141},{"t":"225 K","s":"a","x":593,"y":140},{"t":"225 K","s":"a","x":600,"y":139},
{"t":"225 K","s":"b","x":525,"y":600},{"t":"225 K","s":"b","x":528,"y":650},{"t":"225 K","s":"b","x":531,"y":620},{"t":"225 K","s":"b","x":534,"y":560},{"t":"225 K","s":"b","x":537,"y":480},{"t":"225 K","s":"b","x":540,"y":400},{"t":"225 K","s":"b","x":543,"y":320},{"t":"225 K","s":"b","x":546,"y":250},{"t":"225 K","s":"b","x":548,"y":210},{"t":"225 K","s":"b","x":550.4,"y":177},{"t":"225 K","s":"b","x":553,"y":160},{"t":"225 K","s":"b","x":556.4,"y":152},{"t":"225 K","s":"b","x":560,"y":146},{"t":"225 K","s":"b","x":565,"y":142},{"t":"225 K","s":"b","x":571,"y":140},{"t":"225 K","s":"b","x":578,"y":139},{"t":"225 K","s":"b","x":586,"y":138},{"t":"225 K","s":"b","x":593,"y":138},{"t":"225 K","s":"b","x":600,"y":138},
{"t":"200 K","s":"c","x":532,"y":720},{"t":"200 K","s":"c","x":535,"y":610},{"t":"200 K","s":"c","x":537.4,"y":532},{"t":"200 K","s":"c","x":540,"y":460},{"t":"200 K","s":"c","x":543.3,"y":387},{"t":"200 K","s":"c","x":546,"y":330},{"t":"200 K","s":"c","x":548,"y":295},{"t":"200 K","s":"c","x":549.5,"y":272},{"t":"200 K","s":"c","x":551,"y":256},{"t":"200 K","s":"c","x":553,"y":243},{"t":"200 K","s":"c","x":556,"y":232},{"t":"200 K","s":"c","x":561,"y":224},{"t":"200 K","s":"c","x":566,"y":221},{"t":"200 K","s":"c","x":572,"y":219},{"t":"200 K","s":"c","x":578,"y":218},{"t":"200 K","s":"c","x":584,"y":220},{"t":"200 K","s":"c","x":590,"y":216},{"t":"200 K","s":"c","x":595,"y":218},{"t":"200 K","s":"c","x":600,"y":215},
{"t":"200 K","s":"a","x":533,"y":720},{"t":"200 K","s":"a","x":536,"y":620},{"t":"200 K","s":"a","x":538.5,"y":540},{"t":"200 K","s":"a","x":541,"y":470},{"t":"200 K","s":"a","x":544,"y":400},{"t":"200 K","s":"a","x":546,"y":340},{"t":"200 K","s":"a","x":547.5,"y":290},{"t":"200 K","s":"a","x":549,"y":250},{"t":"200 K","s":"a","x":551,"y":228},{"t":"200 K","s":"a","x":553,"y":218},{"t":"200 K","s":"a","x":556,"y":213},{"t":"200 K","s":"a","x":560,"y":211},{"t":"200 K","s":"a","x":566,"y":210},{"t":"200 K","s":"a","x":574,"y":210},{"t":"200 K","s":"a","x":582,"y":210},{"t":"200 K","s":"a","x":590,"y":210},{"t":"200 K","s":"a","x":600,"y":209},
{"t":"200 K","s":"b","x":532,"y":800},{"t":"200 K","s":"b","x":536,"y":680},{"t":"200 K","s":"b","x":539,"y":580},{"t":"200 K","s":"b","x":542,"y":480},{"t":"200 K","s":"b","x":545,"y":380},{"t":"200 K","s":"b","x":547,"y":320},{"t":"200 K","s":"b","x":548.7,"y":275},{"t":"200 K","s":"b","x":550.4,"y":240},{"t":"200 K","s":"b","x":552.5,"y":224},{"t":"200 K","s":"b","x":555,"y":215},{"t":"200 K","s":"b","x":558,"y":211},{"t":"200 K","s":"b","x":563,"y":209},{"t":"200 K","s":"b","x":570,"y":208},{"t":"200 K","s":"b","x":580,"y":208},{"t":"200 K","s":"b","x":590,"y":208},{"t":"200 K","s":"b","x":600,"y":208},
{"t":"175 K","s":"c","x":534,"y":720},{"t":"175 K","s":"c","x":537,"y":630},{"t":"175 K","s":"c","x":539,"y":560},{"t":"175 K","s":"c","x":540.5,"y":490},{"t":"175 K","s":"c","x":541.7,"y":430},{"t":"175 K","s":"c","x":542.7,"y":395},{"t":"175 K","s":"c","x":544.5,"y":362},{"t":"175 K","s":"c","x":546.5,"y":340},{"t":"175 K","s":"c","x":548.5,"y":327},{"t":"175 K","s":"c","x":550.4,"y":316},{"t":"175 K","s":"c","x":552,"y":307},{"t":"175 K","s":"c","x":553.7,"y":300},{"t":"175 K","s":"c","x":555.5,"y":294},{"t":"175 K","s":"c","x":557.5,"y":290},{"t":"175 K","s":"c","x":560,"y":288},{"t":"175 K","s":"c","x":565,"y":286},{"t":"175 K","s":"c","x":570,"y":285},{"t":"175 K","s":"c","x":576,"y":286},{"t":"175 K","s":"c","x":582,"y":284},{"t":"175 K","s":"c","x":588,"y":286},{"t":"175 K","s":"c","x":594,"y":284},{"t":"175 K","s":"c","x":600,"y":285},
{"t":"175 K","s":"a","x":533,"y":760},{"t":"175 K","s":"a","x":537,"y":640},{"t":"175 K","s":"a","x":540,"y":540},{"t":"175 K","s":"a","x":542,"y":450},{"t":"175 K","s":"a","x":543.5,"y":390},{"t":"175 K","s":"a","x":545.5,"y":350},{"t":"175 K","s":"a","x":547,"y":330},{"t":"175 K","s":"a","x":548.7,"y":315},{"t":"175 K","s":"a","x":550.5,"y":302},{"t":"175 K","s":"a","x":552,"y":294},{"t":"175 K","s":"a","x":554,"y":288},{"t":"175 K","s":"a","x":556.4,"y":284},{"t":"175 K","s":"a","x":560,"y":282},{"t":"175 K","s":"a","x":566,"y":280},{"t":"175 K","s":"a","x":574,"y":280},{"t":"175 K","s":"a","x":582,"y":279},{"t":"175 K","s":"a","x":590,"y":279},{"t":"175 K","s":"a","x":600,"y":279},
{"t":"175 K","s":"b","x":533,"y":820},{"t":"175 K","s":"b","x":537,"y":690},{"t":"175 K","s":"b","x":540,"y":580},{"t":"175 K","s":"b","x":542,"y":480},{"t":"175 K","s":"b","x":544,"y":400},{"t":"175 K","s":"b","x":546,"y":345},{"t":"175 K","s":"b","x":548,"y":318},{"t":"175 K","s":"b","x":550,"y":303},{"t":"175 K","s":"b","x":552.5,"y":293},{"t":"175 K","s":"b","x":555,"y":286},{"t":"175 K","s":"b","x":558,"y":281},{"t":"175 K","s":"b","x":562,"y":279},{"t":"175 K","s":"b","x":570,"y":278},{"t":"175 K","s":"b","x":580,"y":278},{"t":"175 K","s":"b","x":590,"y":278},{"t":"175 K","s":"b","x":600,"y":278},
{"t":"150 K","s":"c","x":535,"y":720},{"t":"150 K","s":"c","x":538,"y":610},{"t":"150 K","s":"c","x":540.5,"y":520},{"t":"150 K","s":"c","x":542.5,"y":465},{"t":"150 K","s":"c","x":544,"y":427},{"t":"150 K","s":"c","x":545.5,"y":405},{"t":"150 K","s":"c","x":547.2,"y":390},{"t":"150 K","s":"c","x":549,"y":378},{"t":"150 K","s":"c","x":550.5,"y":371},{"t":"150 K","s":"c","x":552.5,"y":365},{"t":"150 K","s":"c","x":555,"y":359},{"t":"150 K","s":"c","x":557.5,"y":356},{"t":"150 K","s":"c","x":560.5,"y":353},{"t":"150 K","s":"c","x":565,"y":352},{"t":"150 K","s":"c","x":570,"y":351},{"t":"150 K","s":"c","x":576,"y":353},{"t":"150 K","s":"c","x":582,"y":351},{"t":"150 K","s":"c","x":588,"y":352},{"t":"150 K","s":"c","x":594,"y":350},{"t":"150 K","s":"c","x":600,"y":351},
{"t":"150 K","s":"a","x":536,"y":720},{"t":"150 K","s":"a","x":539,"y":610},{"t":"150 K","s":"a","x":541.5,"y":520},{"t":"150 K","s":"a","x":543.5,"y":460},{"t":"150 K","s":"a","x":545,"y":425},{"t":"150 K","s":"a","x":546.5,"y":403},{"t":"150 K","s":"a","x":548,"y":385},{"t":"150 K","s":"a","x":549.5,"y":372},{"t":"150 K","s":"a","x":551,"y":362},{"t":"150 K","s":"a","x":553,"y":354},{"t":"150 K","s":"a","x":555.5,"y":349},{"t":"150 K","s":"a","x":558,"y":347},{"t":"150 K","s":"a","x":562,"y":346},{"t":"150 K","s":"a","x":570,"y":346},{"t":"150 K","s":"a","x":580,"y":346},{"t":"150 K","s":"a","x":590,"y":346},{"t":"150 K","s":"a","x":600,"y":346},
{"t":"150 K","s":"b","x":536,"y":760},{"t":"150 K","s":"b","x":539,"y":650},{"t":"150 K","s":"b","x":541.5,"y":550},{"t":"150 K","s":"b","x":543.5,"y":475},{"t":"150 K","s":"b","x":545,"y":430},{"t":"150 K","s":"b","x":546.5,"y":398},{"t":"150 K","s":"b","x":548,"y":375},{"t":"150 K","s":"b","x":549.8,"y":360},{"t":"150 K","s":"b","x":552,"y":352},{"t":"150 K","s":"b","x":555,"y":348},{"t":"150 K","s":"b","x":558,"y":346},{"t":"150 K","s":"b","x":563,"y":345},{"t":"150 K","s":"b","x":570,"y":345},{"t":"150 K","s":"b","x":580,"y":345},{"t":"150 K","s":"b","x":590,"y":345},{"t":"150 K","s":"b","x":600,"y":345},
{"t":"100 K","s":"c","x":538,"y":700},{"t":"100 K","s":"c","x":541,"y":610},{"t":"100 K","s":"c","x":543,"y":560},{"t":"100 K","s":"c","x":544.3,"y":527},{"t":"100 K","s":"c","x":545.5,"y":497},{"t":"100 K","s":"c","x":547,"y":475},{"t":"100 K","s":"c","x":548.7,"y":460},{"t":"100 K","s":"c","x":550.5,"y":448},{"t":"100 K","s":"c","x":552,"y":441},{"t":"100 K","s":"c","x":554,"y":435},{"t":"100 K","s":"c","x":556.5,"y":429},{"t":"100 K","s":"c","x":559,"y":426},{"t":"100 K","s":"c","x":562,"y":423},{"t":"100 K","s":"c","x":566,"y":423},{"t":"100 K","s":"c","x":570,"y":421},{"t":"100 K","s":"c","x":575,"y":422},{"t":"100 K","s":"c","x":580,"y":420},{"t":"100 K","s":"c","x":585,"y":421},{"t":"100 K","s":"c","x":590,"y":420},{"t":"100 K","s":"c","x":595,"y":420},{"t":"100 K","s":"c","x":600,"y":419},
{"t":"100 K","s":"a","x":539,"y":700},{"t":"100 K","s":"a","x":542,"y":610},{"t":"100 K","s":"a","x":544,"y":560},{"t":"100 K","s":"a","x":545.5,"y":525},{"t":"100 K","s":"a","x":546.5,"y":490},{"t":"100 K","s":"a","x":548,"y":463},{"t":"100 K","s":"a","x":549.7,"y":447},{"t":"100 K","s":"a","x":551.5,"y":437},{"t":"100 K","s":"a","x":553.7,"y":429},{"t":"100 K","s":"a","x":556,"y":424},{"t":"100 K","s":"a","x":559,"y":420},{"t":"100 K","s":"a","x":563,"y":418},{"t":"100 K","s":"a","x":570,"y":417},{"t":"100 K","s":"a","x":580,"y":416},{"t":"100 K","s":"a","x":590,"y":416},{"t":"100 K","s":"a","x":600,"y":415},
{"t":"100 K","s":"b","x":539,"y":740},{"t":"100 K","s":"b","x":542,"y":640},{"t":"100 K","s":"b","x":544,"y":575},{"t":"100 K","s":"b","x":546,"y":510},{"t":"100 K","s":"b","x":548,"y":465},{"t":"100 K","s":"b","x":550,"y":442},{"t":"100 K","s":"b","x":552,"y":432},{"t":"100 K","s":"b","x":555,"y":424},{"t":"100 K","s":"b","x":558,"y":419},{"t":"100 K","s":"b","x":562,"y":416},{"t":"100 K","s":"b","x":570,"y":415},{"t":"100 K","s":"b","x":580,"y":415},{"t":"100 K","s":"b","x":590,"y":414},{"t":"100 K","s":"b","x":600,"y":414}
]},
"hconcat":[
{"width":456,"height":532,
 "title":{"text":"a)","orient":"left","anchor":"end","angle":0,"baseline":"top","align":"left","offset":15,"dy":10,"fontSize":27,"fontWeight":"bold","color":"#000","font":"Liberation Sans"},
 "data":{"name":"a"},
 "encoding":{
  "x":{"field":"x","type":"quantitative","scale":{"domain":[375,625],"nice":false,"zero":false},
   "axis":{"values":[380,390,400,410,420,430,440,450,460,470,480,490,500,510,520,530,540,550,560,570,580,590,600,610,620],"labelExpr":"datum.value % 50 === 0 ? datum.label : ''","tickSize":{"condition":{"test":"datum.value % 50 === 0","value":8},"value":5},"format":"d","title":"Wavelength (nm)","titleFontSize":27,"titleFontWeight":"normal","titleColor":"#222","titlePadding":10,"titleFont":"Liberation Sans","labelFont":"Liberation Sans","labelFontSize":23,"labelColor":"#222","labelPadding":6,"labelFlush":false,"labelOverlap":false,"domainColor":"#000","domainWidth":1.5,"tickColor":"#000","tickWidth":1.5,"grid":false}},
  "y":{"field":"y","type":"quantitative","scale":{"domain":[0,532],"nice":false,"zero":false},"axis":null},
  "color":{"field":"t","type":"nominal","scale":{"domain":["100 K","150 K","175 K","200 K","225 K","250 K","295 K"],"range":["#1e1ee6","#1c1ca2","#14146c","#000000","#5a0c0c","#9c1010","#ff1a1a"]},"legend":null}
 },
 "layer":[
  {"mark":{"type":"line","clip":true,"strokeCap":"round","strokeJoin":"round"},
   "encoding":{
    "strokeDash":{"field":"s","type":"nominal","scale":{"domain":["a","b","c"],"range":[[0.1,6.5],[6,8],[1,0]]},
     "legend":{"title":null,"orient":"none","legendX":21.5,"legendY":10,"padding":0,"symbolType":"M-2.25,0H2.25","symbolSize":400,"symbolStrokeWidth":3.2,"symbolStrokeColor":"#ff0000","labelFontSize":20,"labelColor":"#222","labelFont":"Liberation Sans","labelOffset":22.5,"rowPadding":6,"labelLimit":300,"labelExpr":"datum.value === 'a' ? 'PL Exc, 20% film' : datum.value === 'b' ? 'PL Exc, 1% film' : 'O.D., 20% film'",
      "encode":{"symbols":{"update":{"strokeCap":{"value":"round"},"stroke":{"value":"#ff0000"},"strokeWidth":{"signal":"datum.value === 'c' ? 2 : 3.4"}}}}}},
    "strokeWidth":{"condition":{"test":"datum.s === 'c'","value":2},"value":3.4}
   }},
  {"transform":[{"filter":"datum.s === 'c' && datum.x === 625"}],
   "mark":{"type":"text","align":"right","baseline":"alphabetic","dx":-5,"dy":-6,"fontSize":19,"fontWeight":"bold","font":"Liberation Sans"},
   "encoding":{"text":{"field":"t"}}}
 ]},
{"width":456,"height":532,
 "title":{"text":"b)","orient":"left","anchor":"end","angle":0,"baseline":"top","align":"left","offset":8,"dy":7,"fontSize":27,"fontWeight":"bold","color":"#000","font":"Liberation Sans"},
 "data":{"name":"b"},
 "encoding":{
  "x":{"field":"x","type":"quantitative","scale":{"domain":[525,600],"nice":false,"zero":false},
   "axis":{"values":[525,530,535,540,545,550,555,560,565,570,575,580,585,590,595,600],"labelExpr":"datum.value % 10 === 0 ? datum.label : ''","tickSize":{"condition":{"test":"datum.value % 10 === 0","value":8},"value":5},"format":"d","title":"Wavelength (nm)","titleFontSize":27,"titleFontWeight":"normal","titleColor":"#222","titlePadding":10,"titleFont":"Liberation Sans","labelFont":"Liberation Sans","labelFontSize":23,"labelColor":"#222","labelPadding":6,"labelFlush":false,"labelOverlap":false,"domainColor":"#000","domainWidth":1.5,"tickColor":"#000","tickWidth":1.5,"grid":false}},
  "y":{"field":"y","type":"quantitative","scale":{"domain":[0,532],"nice":false,"zero":false},"axis":null},
  "color":{"field":"t","type":"nominal","scale":{"domain":["100 K","150 K","175 K","200 K","225 K","250 K","295 K"],"range":["#1e1ee6","#1c1ca2","#14146c","#000000","#5a0c0c","#9c1010","#ff1a1a"]},"legend":null}
 },
 "layer":[
  {"mark":{"type":"line","clip":true,"strokeCap":"round","strokeJoin":"round"},
   "encoding":{
    "strokeDash":{"field":"s","type":"nominal","scale":{"domain":["a","b","c"],"range":[[0.1,6.5],[6,8],[1,0]]},
     "legend":{"title":null,"orient":"none","legendX":256.5,"legendY":10,"padding":0,"symbolType":"M-2.25,0H2.25","symbolSize":400,"symbolStrokeWidth":3.2,"symbolStrokeColor":"#ff0000","labelFontSize":20,"labelColor":"#222","labelFont":"Liberation Sans","labelOffset":22.5,"rowPadding":6,"labelLimit":300,"labelExpr":"datum.value === 'a' ? 'PL Exc, 20% film' : datum.value === 'b' ? 'PL Exc, 1% film' : 'O.D., 20% film'",
      "encode":{"symbols":{"update":{"strokeCap":{"value":"round"},"stroke":{"value":"#ff0000"},"strokeWidth":{"signal":"datum.value === 'c' ? 2 : 3.4"}}}}}},
    "strokeWidth":{"condition":{"test":"datum.s === 'c'","value":2},"value":3.4}
   }},
  {"transform":[{"filter":"datum.s === 'c' && datum.x === 600"}],
   "mark":{"type":"text","align":"right","baseline":"alphabetic","dx":-5,"dy":-6,"fontSize":19,"fontWeight":"bold","font":"Liberation Sans"},
   "encoding":{"text":{"field":"t"}}}
 ]}
],
"resolve":{"scale":{"color":"independent","strokeDash":"independent"},"legend":{"strokeDash":"independent"}}
}
